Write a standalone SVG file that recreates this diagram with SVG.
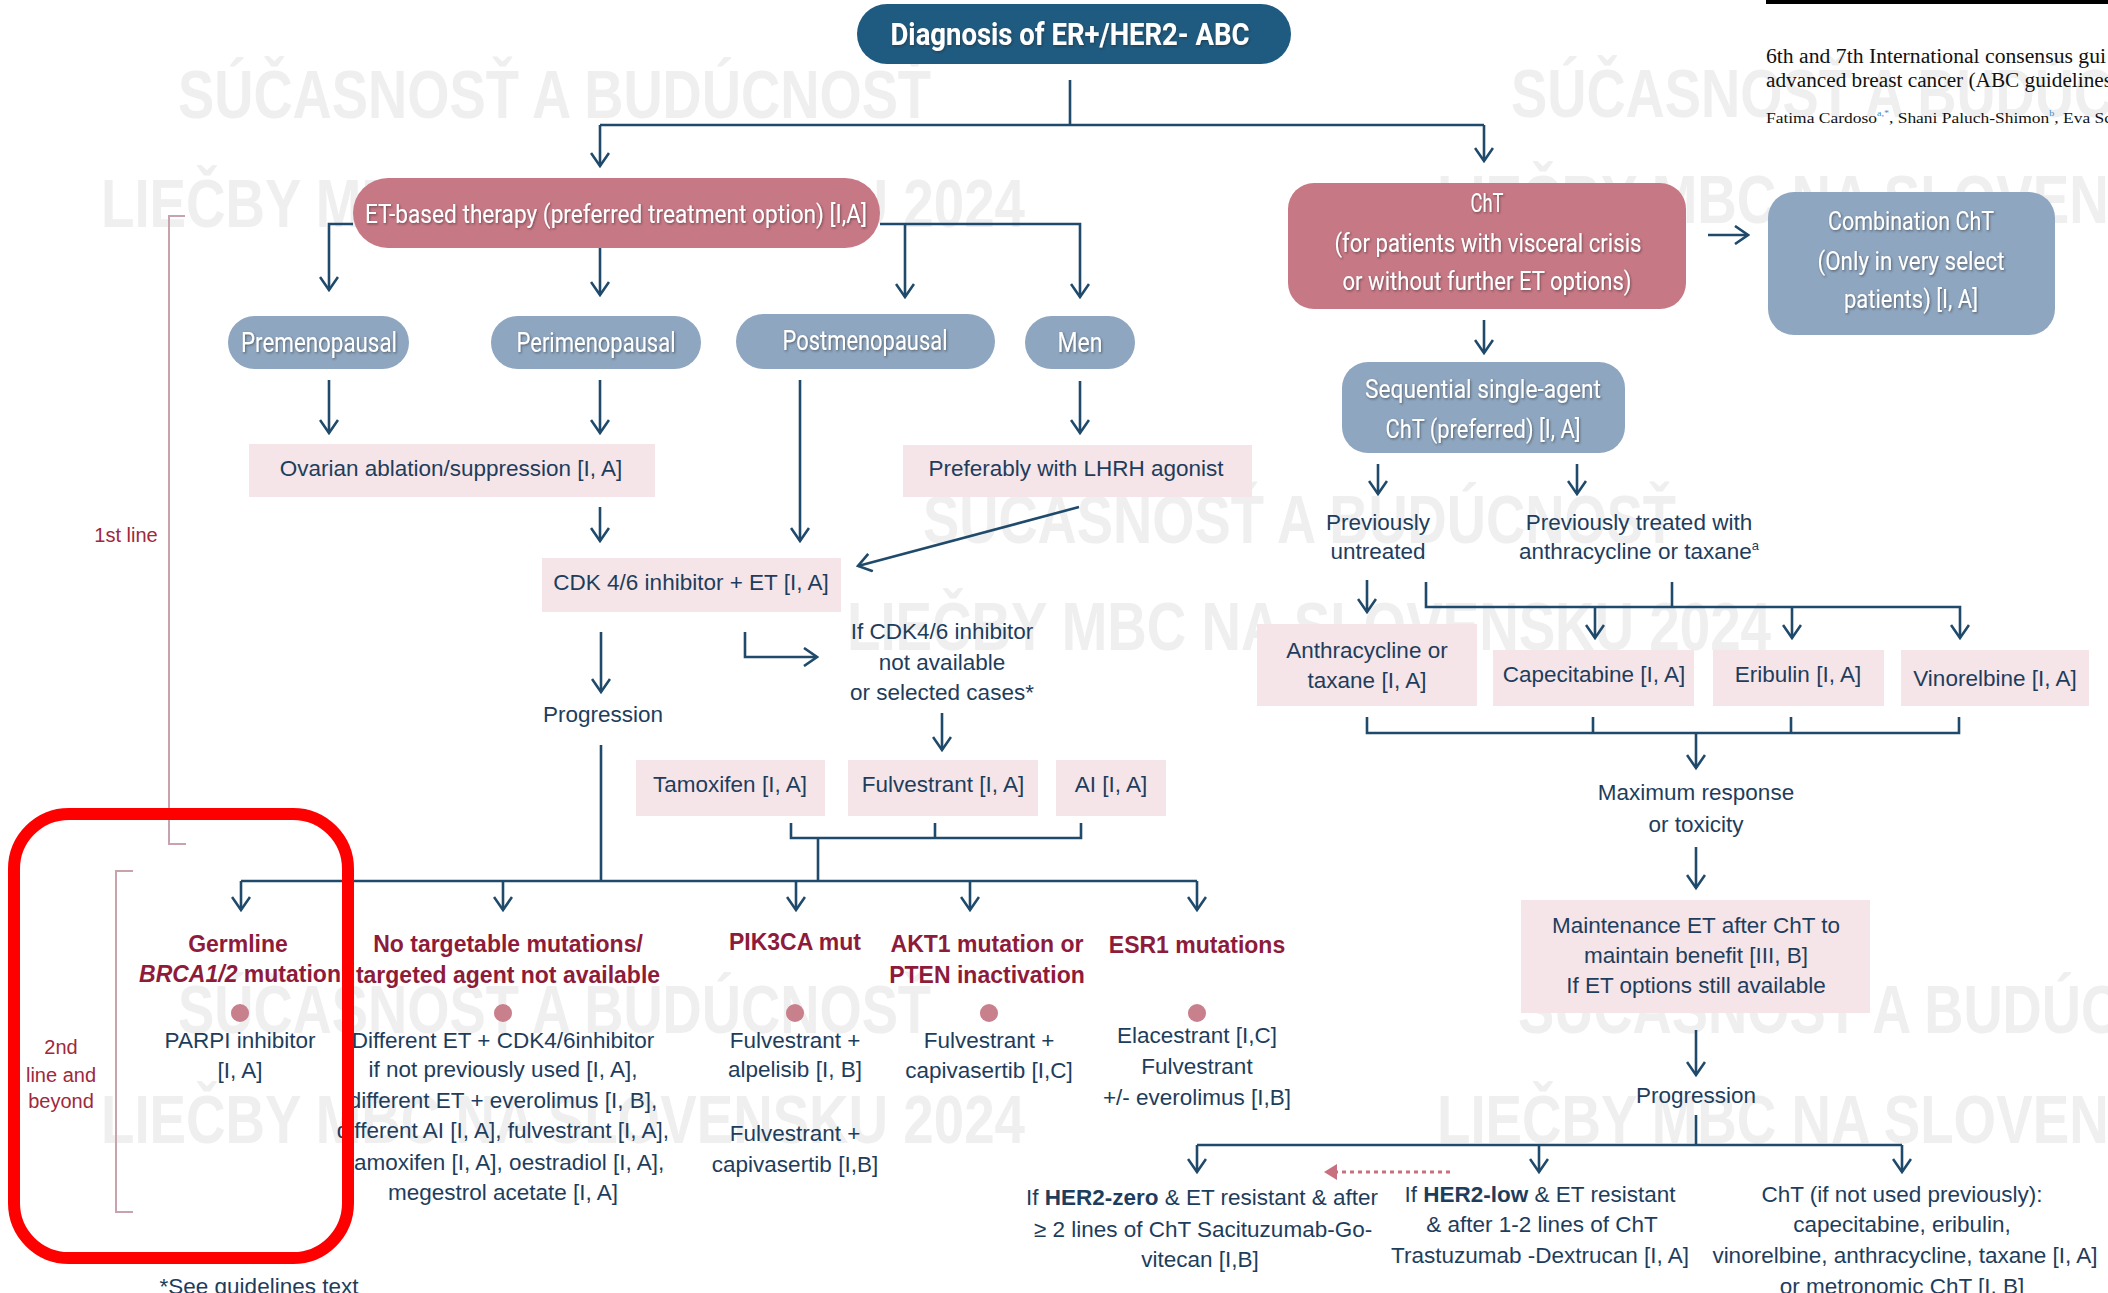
<svg xmlns="http://www.w3.org/2000/svg" width="2108" height="1293" viewBox="0 0 2108 1293">
<defs>
<style>
.wm{font-family:"Liberation Sans",Arial,sans-serif;font-weight:bold;font-size:68px;fill:#efefef}
.ln{stroke:#1f4a6b;stroke-width:2.6;fill:none}
.ar{marker-end:url(#ah)}
.br{stroke:#c9a3ab;stroke-width:2;fill:none}
.w{font-family:Roboto,"Liberation Sans",sans-serif;fill:#ffffff;text-anchor:middle;filter:url(#sh)}
.t{font-family:"Liberation Sans",Arial,sans-serif;font-size:22.5px;fill:#1e3d5c;text-anchor:middle}
.h{font-family:"Liberation Sans",Arial,sans-serif;font-size:23px;font-weight:bold;fill:#8e1b3a;text-anchor:middle}
.lab{font-family:"Liberation Sans",Arial,sans-serif;font-size:20px;fill:#a0283c;text-anchor:middle}
.pk{fill:#f5e5e8}
.rd{fill:#c77885}
.bg{fill:#8ea6c0}
.dot{fill:#c8808c}
.ser{font-family:"Liberation Serif","Times New Roman",serif;fill:#111}
</style>
<marker id="ah" viewBox="0 0 20 20" refX="18" refY="10" markerWidth="20" markerHeight="20" markerUnits="userSpaceOnUse" orient="auto">
<path d="M5,1 L18,10 L5,19" fill="none" stroke="#1f4a6b" stroke-width="2.6"/>
</marker>
<filter id="sh" x="-5%" y="-20%" width="110%" height="140%">
<feDropShadow dx="1" dy="1.2" stdDeviation="0.8" flood-color="#2a2a2a" flood-opacity="0.55"/>
</filter>
</defs>
<rect x="0" y="0" width="2108" height="1293" fill="#ffffff"/>

<g id="watermarks">
<text class="wm" x="178" y="118" textLength="753" lengthAdjust="spacingAndGlyphs">SÚČASNOSŤ A BUDÚCNOSŤ</text>
<text class="wm" x="101" y="227" textLength="924" lengthAdjust="spacingAndGlyphs">LIEČBY MBC NA SLOVENSKU 2024</text>
<text class="wm" x="1511" y="117" textLength="753" lengthAdjust="spacingAndGlyphs">SÚČASNOSŤ A BUDÚCNOSŤ</text>
<text class="wm" x="1437" y="223" textLength="924" lengthAdjust="spacingAndGlyphs">LIEČBY MBC NA SLOVENSKU 2024</text>
<text class="wm" x="923" y="543" textLength="753" lengthAdjust="spacingAndGlyphs">SÚČASNOSŤ A BUDÚCNOSŤ</text>
<text class="wm" x="847" y="650" textLength="924" lengthAdjust="spacingAndGlyphs">LIEČBY MBC NA SLOVENSKU 2024</text>
<text class="wm" x="178" y="1033" textLength="753" lengthAdjust="spacingAndGlyphs">SÚČASNOSŤ A BUDÚCNOSŤ</text>
<text class="wm" x="101" y="1143" textLength="924" lengthAdjust="spacingAndGlyphs">LIEČBY MBC NA SLOVENSKU 2024</text>
<text class="wm" x="1518" y="1033" textLength="753" lengthAdjust="spacingAndGlyphs">SÚČASNOSŤ A BUDÚCNOSŤ</text>
<text class="wm" x="1437" y="1143" textLength="924" lengthAdjust="spacingAndGlyphs">LIEČBY MBC NA SLOVENSKU 2024</text>
</g>

<g id="citation">
<rect x="1766" y="0" width="342" height="4" fill="#000"/>
<text class="ser" x="1766" y="63" font-size="20" textLength="340" lengthAdjust="spacingAndGlyphs">6th and 7th International consensus gui</text>
<text class="ser" x="1766" y="87" font-size="20" textLength="346" lengthAdjust="spacingAndGlyphs">advanced breast cancer (ABC guidelines</text>
<text class="ser" x="1766" y="123" font-size="15.5" textLength="346" lengthAdjust="spacingAndGlyphs">Fatima Cardoso<tspan font-size="9" dy="-7" fill="#3a8fd0">a,*</tspan><tspan dy="7">, Shani Paluch-Shimon</tspan><tspan font-size="9" dy="-7" fill="#3a8fd0">b</tspan><tspan dy="7">, Eva Sc</tspan></text>
</g>

<g id="connectors">
<path class="ln" d="M1070,80 V125 M600,125 H1484"/>
<path class="ln ar" d="M600,125 V166"/>
<path class="ln ar" d="M1484,125 V161"/>
<path class="ln ar" d="M353,224 H329 V290"/>
<path class="ln ar" d="M600,248 V295"/>
<path class="ln ar" d="M880,224 H1080 V297"/>
<path class="ln ar" d="M905,224 V297"/>
<path class="ln ar" d="M329,380 V433"/>
<path class="ln ar" d="M600,380 V433"/>
<path class="ln ar" d="M800,380 V541"/>
<path class="ln ar" d="M1080,381 V433"/>
<path class="ln ar" d="M600,507 V541"/>
<path class="ln ar" d="M1079,507 L858,566"/>
<path class="ln ar" d="M601,632 V692"/>
<path class="ln ar" d="M745,632 V657 H817"/>
<path class="ln ar" d="M942,713 V750"/>
<path class="ln" d="M791,823 V838 H1081 V823 M935,823 V838 M818,838 V881 M601,745 V881 M241,881 H1197"/>
<path class="ln ar" d="M241,881 V910"/>
<path class="ln ar" d="M503,881 V910"/>
<path class="ln ar" d="M796,881 V910"/>
<path class="ln ar" d="M970,881 V910"/>
<path class="ln ar" d="M1197,881 V910"/>
<path class="ln ar" d="M1708,235 H1748"/>
<path class="ln ar" d="M1484,320 V353"/>
<path class="ln ar" d="M1378,464 V494"/>
<path class="ln ar" d="M1577,464 V494"/>
<path class="ln ar" d="M1367,580 V612"/>
<path class="ln" d="M1672,582 V607"/>
<path class="ln ar" d="M1426,582 V607 H1960 V638"/>
<path class="ln ar" d="M1595,607 V638"/>
<path class="ln ar" d="M1792,607 V638"/>
<path class="ln" d="M1367,717 V733 H1959 V717 M1593,717 V733 M1791,717 V733"/>
<path class="ln ar" d="M1696,733 V768"/>
<path class="ln ar" d="M1696,847 V888"/>
<path class="ln ar" d="M1696,1030 V1075"/>
<path class="ln" d="M1696,1115 V1145 M1197,1145 H1902"/>
<path class="ln ar" d="M1197,1145 V1172"/>
<path class="ln ar" d="M1539,1145 V1172"/>
<path class="ln ar" d="M1902,1145 V1172"/>
<path d="M1450,1172 H1336" stroke="#c8707e" stroke-width="3" stroke-dasharray="4 4" fill="none"/>
<polygon points="1324,1172 1337,1164 1337,1180" fill="#c8707e"/>
<path class="br" d="M185,216 H169 V844 H186"/>
<path class="br" d="M133,871 H116 V1212 H133"/>
</g>

<g id="n-title">
<rect x="857" y="4" width="434" height="60" rx="30" fill="#1f5b80"/>
<text class="w" x="1070" y="45" font-size="32" font-weight="bold" textLength="359" lengthAdjust="spacingAndGlyphs">Diagnosis of ER+/HER2- ABC</text>
</g>
<g id="n-et">
<rect class="rd" x="353" y="178" width="527" height="70" rx="35"/>
<text class="w" x="616" y="223" font-size="25" textLength="502" lengthAdjust="spacingAndGlyphs">ET-based therapy (preferred treatment option) [I,A]</text>
</g>
<g id="n-pre">
<rect class="bg" x="228" y="316" width="181" height="53" rx="26.5"/>
<text class="w" x="319" y="352" font-size="27" textLength="156" lengthAdjust="spacingAndGlyphs">Premenopausal</text>
</g>
<g id="n-peri">
<rect class="bg" x="491" y="316" width="210" height="53" rx="26.5"/>
<text class="w" x="596" y="352" font-size="27" textLength="159" lengthAdjust="spacingAndGlyphs">Perimenopausal</text>
</g>
<g id="n-post">
<rect class="bg" x="736" y="314" width="259" height="55" rx="27.5"/>
<text class="w" x="865" y="350" font-size="27" textLength="165" lengthAdjust="spacingAndGlyphs">Postmenopausal</text>
</g>
<g id="n-men">
<rect class="bg" x="1025" y="316" width="110" height="53" rx="26.5"/>
<text class="w" x="1080" y="352" font-size="27" textLength="45" lengthAdjust="spacingAndGlyphs">Men</text>
</g>
<g id="n-ovarian">
<rect class="pk" x="249" y="444" width="406" height="53"/>
<text class="t" x="451" y="476">Ovarian ablation/suppression [I, A]</text>
</g>
<g id="n-lhrh">
<rect class="pk" x="903" y="445" width="349" height="52"/>
<text class="t" x="1076" y="476">Preferably with LHRH agonist</text>
</g>
<g id="n-cdk">
<rect class="pk" x="542" y="558" width="299" height="54"/>
<text class="t" x="691" y="590">CDK 4/6 inhibitor + ET [I, A]</text>
</g>
<g id="n-prog1">
<text class="t" x="603" y="722">Progression</text>
</g>
<g id="n-ifcdk">
<text class="t" x="942" y="639">If CDK4/6 inhibitor</text>
<text class="t" x="942" y="670">not available</text>
<text class="t" x="942" y="700">or selected cases*</text>
</g>
<g id="n-tam">
<rect class="pk" x="636" y="760" width="189" height="56"/>
<text class="t" x="730" y="792">Tamoxifen [I, A]</text>
</g>
<g id="n-fulv">
<rect class="pk" x="848" y="760" width="190" height="56"/>
<text class="t" x="943" y="792">Fulvestrant [I, A]</text>
</g>
<g id="n-ai">
<rect class="pk" x="1056" y="760" width="110" height="56"/>
<text class="t" x="1111" y="792">AI [I, A]</text>
</g>

<g id="n-labels">
<text class="lab" x="126" y="542">1st line</text>
<text class="lab" x="61" y="1054">2nd</text>
<text class="lab" x="61" y="1082">line and</text>
<text class="lab" x="61" y="1108">beyond</text>
</g>

<g id="n-germline">
<text class="h" x="238" y="952">Germline</text>
<text class="h" x="240" y="982"><tspan font-style="italic">BRCA1/2</tspan> mutation</text>
<circle class="dot" cx="240" cy="1013" r="9"/>
<text class="t" x="240" y="1048">PARPI inhibitor</text>
<text class="t" x="240" y="1078">[I, A]</text>
</g>
<g id="n-notarget">
<text class="h" x="508" y="952">No targetable mutations/</text>
<text class="h" x="508" y="983">targeted agent not available</text>
<circle class="dot" cx="503" cy="1013" r="9"/>
<text class="t" x="503" y="1048">Different ET + CDK4/6inhibitor</text>
<text class="t" x="503" y="1077">if not previously used [I, A],</text>
<text class="t" x="503" y="1108">different  ET + everolimus [I, B],</text>
<text class="t" x="503" y="1138">different AI [I, A], fulvestrant [I, A],</text>
<text class="t" x="506" y="1170">tamoxifen [I, A], oestradiol [I, A],</text>
<text class="t" x="503" y="1200">megestrol acetate [I, A]</text>
</g>
<g id="n-pik3ca">
<text class="h" x="795" y="950">PIK3CA mut</text>
<circle class="dot" cx="795" cy="1013" r="9"/>
<text class="t" x="795" y="1048">Fulvestrant +</text>
<text class="t" x="795" y="1077">alpelisib [I, B]</text>
<text class="t" x="795" y="1141">Fulvestrant +</text>
<text class="t" x="795" y="1172">capivasertib [I,B]</text>
</g>
<g id="n-akt1">
<text class="h" x="987" y="952">AKT1 mutation or</text>
<text class="h" x="987" y="983">PTEN inactivation</text>
<circle class="dot" cx="989" cy="1013" r="9"/>
<text class="t" x="989" y="1048">Fulvestrant +</text>
<text class="t" x="989" y="1078">capivasertib [I,C]</text>
</g>
<g id="n-esr1">
<text class="h" x="1197" y="953">ESR1 mutations</text>
<circle class="dot" cx="1197" cy="1013" r="9"/>
<text class="t" x="1197" y="1043">Elacestrant [I,C]</text>
<text class="t" x="1197" y="1074">Fulvestrant</text>
<text class="t" x="1197" y="1105">+/- everolimus [I,B]</text>
</g>
<g id="n-footnote">
<text class="t" x="259" y="1294" font-size="20">*See guidelines text</text>
</g>

<g id="n-cht">
<rect class="rd" x="1288" y="183" width="398" height="126" rx="26"/>
<text class="w" x="1487" y="212" font-size="26" textLength="33" lengthAdjust="spacingAndGlyphs">ChT</text>
<text class="w" x="1488" y="252" font-size="26" textLength="307" lengthAdjust="spacingAndGlyphs">(for patients with visceral crisis</text>
<text class="w" x="1487" y="290" font-size="26" textLength="289" lengthAdjust="spacingAndGlyphs">or without further ET options)</text>
</g>
<g id="n-combo">
<rect class="bg" x="1768" y="192" width="287" height="143" rx="26"/>
<text class="w" x="1911" y="230" font-size="26" textLength="166" lengthAdjust="spacingAndGlyphs">Combination ChT</text>
<text class="w" x="1911" y="270" font-size="26" textLength="187" lengthAdjust="spacingAndGlyphs">(Only in very select</text>
<text class="w" x="1911" y="308" font-size="26" textLength="134" lengthAdjust="spacingAndGlyphs">patients) [I, A]</text>
</g>
<g id="n-seq">
<rect class="bg" x="1342" y="362" width="283" height="91" rx="26"/>
<text class="w" x="1483" y="398" font-size="26" textLength="236" lengthAdjust="spacingAndGlyphs">Sequential single-agent</text>
<text class="w" x="1483" y="438" font-size="26" textLength="195" lengthAdjust="spacingAndGlyphs">ChT (preferred) [I, A]</text>
</g>
<g id="n-untreated">
<text class="t" x="1378" y="530">Previously</text>
<text class="t" x="1378" y="559">untreated</text>
</g>
<g id="n-treated">
<text class="t" x="1639" y="530">Previously treated with</text>
<text class="t" x="1639" y="559">anthracycline or taxane<tspan font-size="13" dy="-9">a</tspan></text>
</g>
<g id="n-anthra">
<rect class="pk" x="1257" y="624" width="220" height="82"/>
<text class="t" x="1367" y="658">Anthracycline or</text>
<text class="t" x="1367" y="688">taxane [I, A]</text>
</g>
<g id="n-cape">
<rect class="pk" x="1493" y="650" width="201" height="56"/>
<text class="t" x="1594" y="682">Capecitabine [I, A]</text>
</g>
<g id="n-eri">
<rect class="pk" x="1713" y="650" width="171" height="56"/>
<text class="t" x="1798" y="682">Eribulin [I, A]</text>
</g>
<g id="n-vino">
<rect class="pk" x="1901" y="650" width="188" height="56"/>
<text class="t" x="1995" y="686">Vinorelbine [I, A]</text>
</g>
<g id="n-maxresp">
<text class="t" x="1696" y="800">Maximum response</text>
<text class="t" x="1696" y="832">or toxicity</text>
</g>
<g id="n-maint">
<rect class="pk" x="1521" y="900" width="349" height="113"/>
<text class="t" x="1696" y="933">Maintenance ET after ChT to</text>
<text class="t" x="1696" y="963">maintain benefit [III, B]</text>
<text class="t" x="1696" y="993">If ET options still available</text>
</g>
<g id="n-prog2">
<text class="t" x="1696" y="1103">Progression</text>
</g>
<g id="n-her2zero">
<text class="t" x="1202" y="1205">If <tspan font-weight="bold">HER2-zero</tspan> &amp; ET resistant &amp; after</text>
<text class="t" x="1203" y="1237">≥ 2 lines of ChT Sacituzumab-Go-</text>
<text class="t" x="1200" y="1267">vitecan [I,B]</text>
</g>
<g id="n-her2low">
<text class="t" x="1540" y="1202">If <tspan font-weight="bold">HER2-low</tspan> &amp; ET resistant</text>
<text class="t" x="1542" y="1232">&amp; after 1-2 lines of ChT</text>
<text class="t" x="1540" y="1263">Trastuzumab -Dextrucan [I, A]</text>
</g>
<g id="n-chtlater">
<text class="t" x="1902" y="1202">ChT (if not used previously):</text>
<text class="t" x="1902" y="1232">capecitabine, eribulin,</text>
<text class="t" x="1905" y="1263">vinorelbine, anthracycline, taxane [I, A]</text>
<text class="t" x="1902" y="1294">or metronomic ChT [I, B]</text>
</g>

<g id="highlight">
<rect x="14" y="814" width="334" height="444" rx="55" fill="none" stroke="#ff0000" stroke-width="12"/>
</g>
</svg>
